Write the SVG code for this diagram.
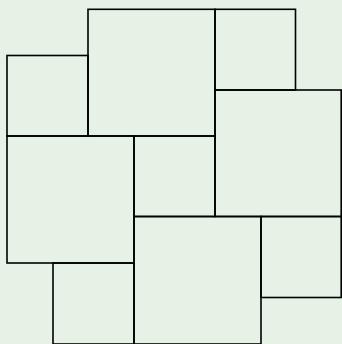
<svg xmlns="http://www.w3.org/2000/svg" width="342" height="344" viewBox="0 0 342 344">
<style>
.sq{fill:none;stroke:#000;stroke-width:1.6}
</style>
<rect width="342" height="344" fill="#e6f2e6"/>
<g id="sq1"><rect class="sq" x="7" y="55.5" width="81" height="80.5"/></g>
<g id="sq2"><rect class="sq" x="88" y="9.3" width="127" height="126.7"/></g>
<g id="sq3"><rect class="sq" x="215" y="9.3" width="80.5" height="80.7"/></g>
<g id="sq4"><rect class="sq" x="215" y="90" width="126.2" height="126.5"/></g>
<g id="sq5"><rect class="sq" x="7" y="136" width="127" height="127"/></g>
<g id="sq6"><rect class="sq" x="134" y="136" width="81" height="80.5"/></g>
<g id="sq7"><rect class="sq" x="134" y="216.5" width="127" height="127.5"/></g>
<g id="sq8"><rect class="sq" x="261" y="216.5" width="80.2" height="81"/></g>
<g id="sq9"><rect class="sq" x="53" y="263" width="81" height="81"/></g>
<g id="connectors"></g>
</svg>
